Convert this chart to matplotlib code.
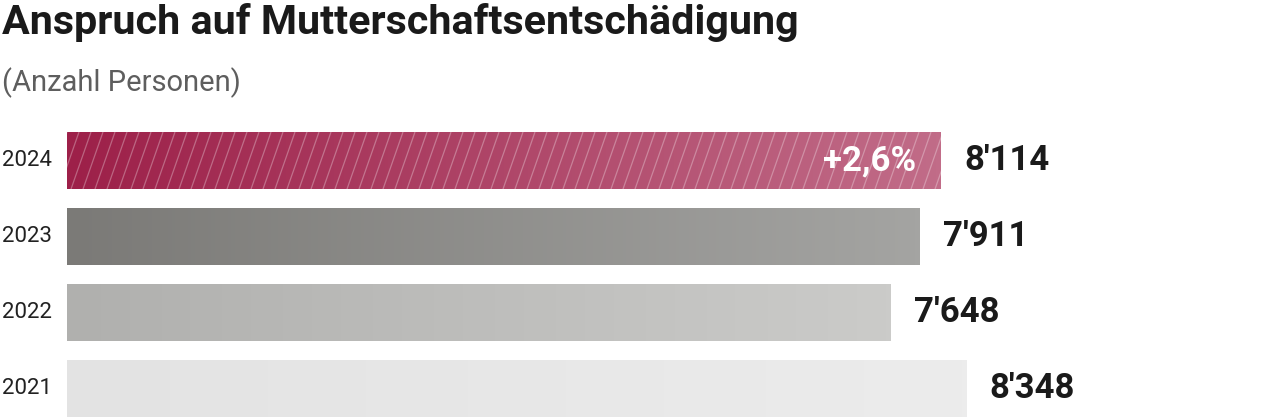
import matplotlib.pyplot as plt
import numpy as np
from matplotlib.colors import LinearSegmentedColormap
from matplotlib.collections import LineCollection
import matplotlib.transforms as mtransforms

# data
years = ["2024", "2023", "2022", "2021"]
values = [8114, 7911, 7648, 8348]
value_labels = ["8'114", "7'911", "7'648", "8'348"]
change_label = "+2,6%"

# gradient colours (left, right) for each bar
grad_colors = [("#9d2049", "#c16c88"),
               ("#7b7a77", "#a4a4a2"),
               ("#b0b0ae", "#cbcbc9"),
               ("#e3e3e3", "#ececec")]

W, H = 1280, 419
fig = plt.figure(figsize=(W / 100, H / 100), dpi=100)
ax = fig.add_axes([67 / W, 0, 1 - 67 / W, (419 - 115) / H])

xmax = (W - 67) / 0.1077
bar_h = 0.75
ypos = np.arange(len(years))

bars = ax.barh(ypos, values, height=bar_h, color="none")
grad = np.linspace(0, 1, 256).reshape(1, -1)
for i, (b, v) in enumerate(zip(bars, values)):
    cmap = LinearSegmentedColormap.from_list("g%d" % i, grad_colors[i])
    y0, y1 = ypos[i] - bar_h / 2, ypos[i] + bar_h / 2
    im = ax.imshow(grad, cmap=cmap, aspect="auto", extent=[0, v, y1, y0],
                   zorder=2, interpolation="bicubic")
    im.set_clip_path(b)

# diagonal stripes on the current year
b0 = bars[0]
step = 12 / 0.1077
dx = 20 / 0.1077
y0, y1 = ypos[0] + bar_h / 2, ypos[0] - bar_h / 2
segs = [[(x, y0), (x + dx, y1)] for x in np.arange(-dx, values[0] + step, step)]
lc = LineCollection(segs, colors="white", linewidths=0.9, alpha=0.3, zorder=3)
ax.add_collection(lc)
lc.set_clip_path(b0)

for i, v in enumerate(values):
    ax.annotate(value_labels[i], (v, ypos[i]), xytext=(17, 0),
                textcoords="offset points", va="center", ha="left",
                fontsize=25, fontweight="bold", color="#1a1a1a",
                family="Roboto")

ax.annotate(change_label, (values[0], ypos[0]), xytext=(-18, 0),
            textcoords="offset points", va="center", ha="right",
            fontsize=25, fontweight="bold", color="white",
            family="Roboto", zorder=5)

trans = mtransforms.blended_transform_factory(fig.transFigure, ax.transData)
for i, y in enumerate(years):
    ax.text(2 / W, ypos[i], y, transform=trans, va="center", ha="left",
            fontsize=16, color="#222222", family="Roboto")

ax.set_xlim(0, xmax)
ax.set_ylim(3 + (419 - 389) / 76, -(160.5 - 115) / 76)
ax.axis("off")

fig.text(2 / W, 1 - 34 / H, "Anspruch auf Mutterschaftsentschädigung",
         fontsize=29.7, fontweight="bold", color="#1a1a1a", family="Roboto",
         va="baseline", ha="left")
fig.text(2 / W, 1 - 91 / H, "(Anzahl Personen)", fontsize=21,
         color="#5e5e5e", family="Roboto",
         va="baseline", ha="left")

fig.savefig("out.png", dpi=100)
